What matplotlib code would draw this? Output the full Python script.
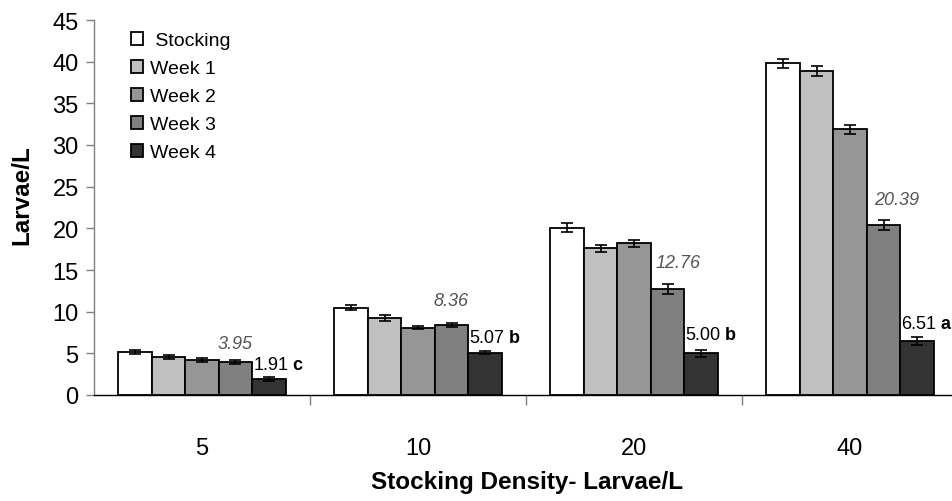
import numpy as np
import matplotlib.pyplot as plt
from matplotlib.ticker import FixedLocator

plt.rcParams['font.family'] = ['Liberation Sans', 'DejaVu Sans']

densities = ['5', '10', '20', '40']
series = [' Stocking', 'Week 1', 'Week 2', 'Week 3', 'Week 4']
colors = ['#ffffff', '#c0c0c0', '#969696', '#808080', '#333333']

stocking = [5.2, 10.5, 20.1, 39.8]
week1 = [4.6, 9.2, 17.6, 38.9]
week2 = [4.2, 8.1, 18.2, 31.9]
week3 = [3.95, 8.36, 12.76, 20.39]
week4 = [1.91, 5.07, 5.00, 6.51]

err_stocking = [0.25, 0.35, 0.55, 0.5]
err_week1 = [0.25, 0.35, 0.45, 0.6]
err_week2 = [0.25, 0.2, 0.45, 0.55]
err_week3 = [0.25, 0.25, 0.6, 0.6]
err_week4 = [0.2, 0.2, 0.45, 0.45]

week4_letters = ['c', 'b', 'b', 'a']

values = [stocking, week1, week2, week3, week4]
errors = [err_stocking, err_week1, err_week2, err_week3, err_week4]

fig = plt.figure(figsize=(9.52, 5.02), dpi=100)
ax = fig.add_axes([94 / 952, 106 / 502, 858 / 952, 375 / 502])

x = np.arange(len(densities))
w = 0.155
for i, (name, vals, errs, col) in enumerate(zip(series, values, errors, colors)):
    pos = x + (i - 2) * w
    ax.bar(pos, vals, width=w, color=col, edgecolor='black', linewidth=1.3,
           label=name, zorder=2)
    ax.errorbar(pos, vals, yerr=errs, fmt='none', ecolor='black',
                elinewidth=1.2, capsize=4, capthick=1.2, zorder=3)

# week 3 means in grey italics
w3_shift = [0, 0, 0.05, 0.06]
w3_dy = [1.2, 1.9, 2.1, 2.1]
for k in range(len(densities)):
    ax.text(x[k] + w + w3_shift[k], week3[k] + w3_dy[k], f'{week3[k]:.2f}',
            ha='center', va='bottom', fontsize=13, style='italic', color='#555555')

# week 4 means with significance letters
w4_dy = [0.7, 0.85, 1.3, 1.0]
for k in range(len(densities)):
    xp = x[k] + 2 * w
    yp = week4[k] + w4_dy[k]
    ax.annotate(f'{week4[k]:.2f}', (xp, yp), xytext=(14, 0), textcoords='offset points',
                ha='right', va='bottom', fontsize=13)
    ax.annotate(week4_letters[k], (xp, yp), xytext=(17, 0), textcoords='offset points',
                ha='left', va='bottom', fontsize=13, fontweight='bold')

ax.set_ylim(0, 45)
ax.set_xlim(-0.5, 3.472)
ax.set_yticks(np.arange(0, 46, 5))
ax.tick_params(axis='y', labelsize=17, length=6, width=1, color='#808080',
               direction='out', pad=5)

ax.xaxis.set_major_locator(FixedLocator([0.5, 1.5, 2.5]))
ax.xaxis.set_minor_locator(FixedLocator(x))
ax.set_xticklabels([], minor=False)
ax.set_xticklabels(densities, minor=True)
ax.tick_params(axis='x', which='major', length=7, width=1, color='#808080')
ax.tick_params(axis='x', which='minor', length=0, labelsize=17, pad=30)

for s in ['top', 'right']:
    ax.spines[s].set_visible(False)
ax.spines['left'].set_color('#808080')
ax.spines['bottom'].set_color('black')
ax.spines['left'].set_linewidth(1)
ax.spines['bottom'].set_linewidth(1)

ax.set_ylabel('Larvae/L', fontsize=17.5, fontweight='bold')
ax.yaxis.set_label_coords(-0.071, 0.535)
ax.set_xlabel('Stocking Density- Larvae/L', fontsize=17.5, fontweight='bold')
ax.xaxis.set_label_coords(0.505, -0.2)

ax.legend(loc='upper left', bbox_to_anchor=(0.027, 1.005), frameon=False, fontsize=14,
          handlelength=0.65, handleheight=0.65, handletextpad=0.35, labelspacing=0.55,
          borderaxespad=0.3)

fig.savefig('out.png', dpi=100)
